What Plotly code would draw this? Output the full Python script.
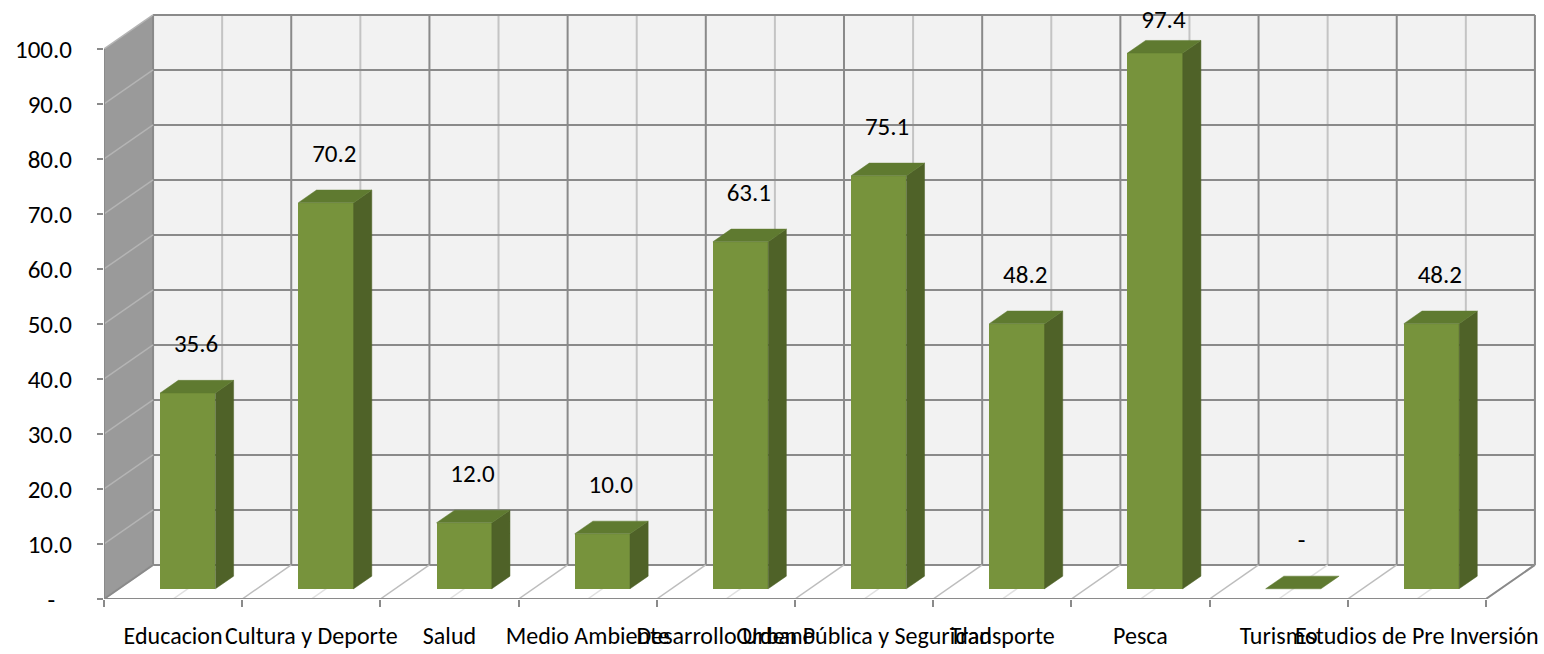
import plotly.graph_objects as go

# ---------------- data ----------------
categories = ["Educacion", "Cultura y Deporte", "Salud", "Medio Ambiente", "Desarrollo Urbano",
              "Orden Pública y Seguridad", "Transporte", "Pesca", "Turismo",
              "Estudios de Pre Inversión"]
values = [35.6, 70.2, 12.0, 10.0, 63.1, 75.1, 48.2, 97.4, 0.0, 48.2]
y_tick_values = [0, 10, 20, 30, 40, 50, 60, 70, 80, 90, 100]
y_tick_labels = ["-\u00a0\u00a0\u00a0", "10.0", "20.0", "30.0", "40.0", "50.0",
                 "60.0", "70.0", "80.0", "90.0", "100.0"]

# ---------------- style / 3-D geometry ----------------
FONT = "Calibri, Carlito, Lato, sans-serif"
FS_CAT = 24
FS_NUM = 25
DX = 0.355        # depth offset along x (category units)
DY = 6.2          # depth offset along y (value units)
BAR_W = 0.40
BAR_Z0 = 0.30     # depth of the bar front face (fraction of full depth)
BAR_D = 0.37      # bar depth (fraction of full depth)
FRONT = "#77933c"
SIDE = "#4f6228"
TOP = "#5f7a30"
WALL = "#f2f2f2"
SIDE_WALL = "#9a9a9a"
GRID_DARK = "#8a8a8a"
GRID_LIGHT = "#c4c4c4"

n = len(categories)
xs = list(range(n))
x_lo, x_hi = -0.5, n - 0.5
y_top = max(y_tick_values)

shapes = []

def poly(points, fill, line_color=None, width=0):
    path = "M " + " L ".join(f"{px},{py}" for px, py in points) + " Z"
    shapes.append(dict(type="path", path=path, xref="x", yref="y", layer="below",
                       fillcolor=fill, line=dict(color=line_color or fill, width=width)))

def seg(x0, y0, x1, y1, color, width=2):
    shapes.append(dict(type="line", x0=x0, y0=y0, x1=x1, y1=y1, xref="x", yref="y",
                       layer="below", line=dict(color=color, width=width)))

# walls and floor
poly([(x_lo + DX, DY), (x_hi + DX, DY), (x_hi + DX, y_top + DY), (x_lo + DX, y_top + DY)], WALL)
poly([(x_lo, 0), (x_lo, y_top), (x_lo + DX, y_top + DY), (x_lo + DX, DY)], SIDE_WALL)
poly([(x_lo, 0), (x_hi, 0), (x_hi + DX, DY), (x_lo + DX, DY)], "#ffffff")

# back wall vertical grid (category centres light, boundaries dark)
for i in xs:
    seg(i + DX, DY, i + DX, y_top + DY, GRID_LIGHT, 2)
for k in range(n + 1):
    b = k - 0.5
    seg(b + DX, DY, b + DX, y_top + DY, GRID_DARK, 2)
# back wall horizontal grid + side wall diagonal grid
for v in y_tick_values:
    seg(x_lo + DX, v + DY, x_hi + DX, v + DY, GRID_DARK, 2)
    if v > 0:
        seg(x_lo, v, x_lo + DX, v + DY, "#b4b4b4", 1.5)
# floor grid
for i in xs:
    seg(i, 0, i + DX, DY, "#e0e0e0", 1.5)
for k in range(n + 1):
    b = k - 0.5
    seg(b, 0, b + DX, DY, "#bdbdbd", 1.5)
seg(x_lo, 0, x_lo + DX, DY, GRID_DARK, 2)
# front axes
seg(x_lo, 0, x_hi, 0, GRID_DARK, 2)
seg(x_hi, 0, x_hi + DX, DY, GRID_DARK, 2)
seg(x_lo, 0, x_lo, y_top, GRID_DARK, 2)

# ---------------- bars ----------------
base = BAR_Z0 * DY
xc = [i + BAR_Z0 * DX for i in xs]
bd_x = BAR_D * DX
bd_y = BAR_D * DY

fig = go.Figure()
fig.add_trace(go.Bar(x=xc, y=values, base=[base] * n, width=BAR_W,
                     marker=dict(color=FRONT, line=dict(width=0)),
                     hoverinfo="skip", showlegend=False))

side_x, side_y, top_x, top_y = [], [], [], []
for c, v in zip(xc, values):
    xl, xr = c - BAR_W / 2, c + BAR_W / 2
    yt = base + v
    if v > 0:
        side_x += [xr, xr, xr + bd_x, xr + bd_x, xr, None]
        side_y += [base, yt, yt + bd_y, base + bd_y, base, None]
    top_x += [xl, xr, xr + bd_x, xl + bd_x, xl, None]
    top_y += [yt, yt, yt + bd_y, yt + bd_y, yt, None]

fig.add_trace(go.Scatter(x=side_x, y=side_y, mode="lines", fill="toself",
                         fillcolor=SIDE, line=dict(color=SIDE, width=0.5),
                         hoverinfo="skip", showlegend=False))
fig.add_trace(go.Scatter(x=top_x, y=top_y, mode="lines", fill="toself",
                         fillcolor=TOP, line=dict(color=TOP, width=0.5),
                         hoverinfo="skip", showlegend=False))

# data labels
label_text = ["-" if v == 0 else f"{v:.1f}" for v in values]
label_x = [c + 0.06 for c in xc]
label_y = [min(base + v + 8.5, y_top + 5) for v in values]
fig.add_trace(go.Scatter(x=label_x, y=label_y, text=label_text, mode="text",
                         textposition="middle center", xaxis="x2",
                         textfont=dict(family=FONT, size=FS_NUM, color="#000000"),
                         cliponaxis=False, hoverinfo="skip", showlegend=False))

x_range = [x_lo, x_hi + DX + 0.015]
y_range = [0, y_top + 8]

fig.update_layout(
    width=1544, height=654,
    margin=dict(l=104, r=7, t=5, b=55),
    paper_bgcolor="#ffffff", plot_bgcolor="#ffffff",
    font=dict(family=FONT, size=FS_CAT, color="#000000"),
    shapes=shapes,
    bargap=0,
    xaxis=dict(range=x_range, tickmode="array",
               tickvals=[k - 0.5 for k in range(n + 1)], ticktext=[""] * (n + 1),
               ticks="outside", ticklen=7, tickwidth=2, tickcolor=GRID_DARK,
               showgrid=False, zeroline=False, showline=False, fixedrange=True),
    xaxis2=dict(range=x_range, overlaying="x", anchor="y", side="bottom",
                tickmode="array", tickvals=xs, ticktext=categories, tickangle=0,
                ticks="", ticklabelstandoff=20, showgrid=False, zeroline=False,
                showline=False, fixedrange=True,
                tickfont=dict(family=FONT, size=FS_CAT, color="#000000")),
    yaxis=dict(range=y_range, tickmode="array", tickvals=y_tick_values,
               ticktext=y_tick_labels, ticks="outside", ticklen=6, tickwidth=2,
               tickcolor=GRID_DARK, ticklabelstandoff=20, showgrid=False,
               zeroline=False, showline=False, fixedrange=True,
               tickfont=dict(family=FONT, size=FS_NUM, color="#000000")),
)

fig.write_html("out.html", config={"displayModeBar": False},
               post_script="document.body.style.margin='0px';document.body.style.overflow='hidden';")
